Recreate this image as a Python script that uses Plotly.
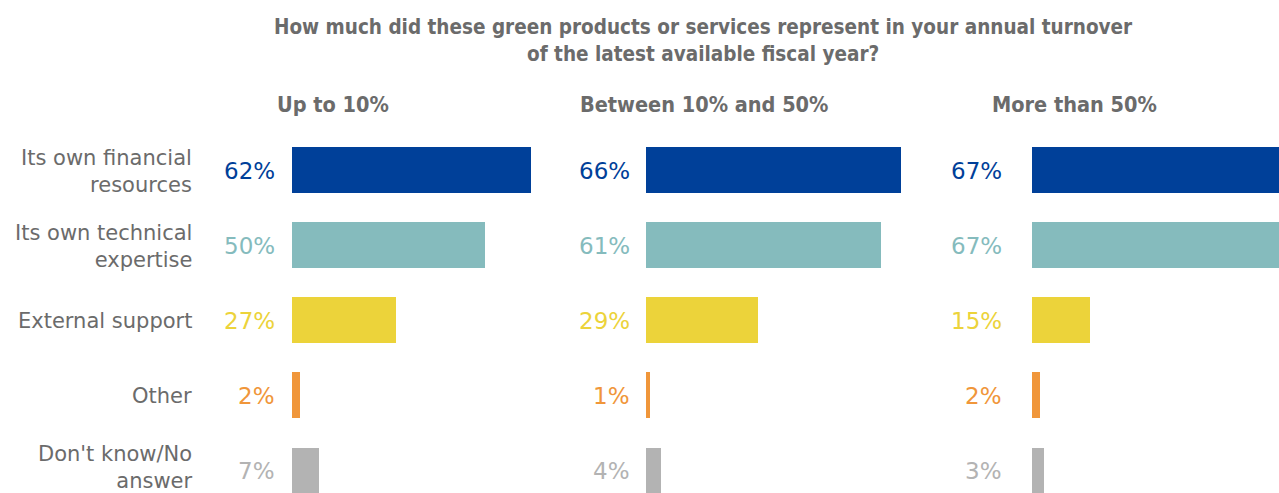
import plotly.graph_objects as go

# Survey answers, top to bottom
categories = [
    "Its own financial<br>resources",
    "Its own technical<br>expertise",
    "External support",
    "Other",
    "Don't know/No<br>answer",
]
groups = ["Up to 10%", "Between 10% and 50%", "More than 50%"]
share_up_to_10 = [62, 50, 27, 2, 7]
share_10_to_50 = [66, 61, 29, 1, 4]
share_over_50 = [67, 67, 15, 2, 3]
series = [share_up_to_10, share_10_to_50, share_over_50]

bar_colors = ["#004099", "#85BBBD", "#ECD33A", "#F0963A", "#B3B3B3"]
label_colors = ["#004099", "#85BBBD", "#ECD33A", "#F0963A", "#B3B3B3"]

title = ("How much did these green products or services represent in your annual turnover"
         "<br>of the latest available fiscal year?")

W, H = 1279, 493
PX_PER_PCT = 3.86
panel_left = [292, 646, 1032]
panel_width = [270, 270, 247]
label_gap = [15, 14, 28]
subtitle_center = [333, 704, 1074]

ROW_TOP = 170.0
ROW_STEP = 75.1
y_range = [(H - ROW_TOP) / ROW_STEP, -ROW_TOP / ROW_STEP]

TEXT_FONT = "DejaVu Sans, Verdana, sans-serif"
BOLD_FONT = "DejaVu Sans Condensed, DejaVu Sans, sans-serif"
GREY = "#6B6B6B"

fig = go.Figure()
rows = list(range(len(categories)))

for p, values in enumerate(series):
    xa = "x" if p == 0 else f"x{p + 1}"
    fig.add_trace(go.Bar(
        x=values, y=rows, orientation="h",
        marker=dict(color=bar_colors, line=dict(width=0)),
        width=0.608, xaxis=xa, yaxis="y",
        hoverinfo="skip", showlegend=False,
    ))
    axis_key = "xaxis" if p == 0 else f"xaxis{p + 1}"
    dom = [panel_left[p] / W, (panel_left[p] + panel_width[p]) / W]
    fig.layout[axis_key] = dict(
        domain=dom, range=[0, panel_width[p] / PX_PER_PCT],
        visible=False, fixedrange=True, anchor="y",
    )
    for i, v in enumerate(values):
        fig.add_annotation(
            x=0, y=i, xref=xa, yref="y", text=f"{v}%",
            xanchor="right", yanchor="middle", xshift=-label_gap[p], yshift=-1,
            showarrow=False,
            font=dict(family=TEXT_FONT, size=23, color=label_colors[i]),
        )
    fig.add_annotation(
        x=subtitle_center[p] / W, y=1 - 104 / H, xref="paper", yref="paper",
        text=f"<b>{groups[p]}</b>", xanchor="center", yanchor="middle",
        showarrow=False, font=dict(family=BOLD_FONT, size=21.5, color=GREY),
    )

# the last label sits against the bottom edge, so it is nudged up a little
label_shift = [-1, -1, -1, -1, 3]
for i, c in enumerate(categories):
    fig.add_annotation(
        x=194 / W, y=i, xref="paper", yref="y", text=c,
        xanchor="right", yanchor="middle", align="right",
        showarrow=False, yshift=label_shift[i],
        font=dict(family=TEXT_FONT, size=21, color=GREY),
    )

fig.add_annotation(
    x=703 / W, y=1 - 40 / H, xref="paper", yref="paper",
    text=f"<b>{title}</b>", xanchor="center", yanchor="middle", align="center",
    showarrow=False, font=dict(family=BOLD_FONT, size=20.5, color=GREY),
)

fig.update_layout(
    width=W, height=H,
    margin=dict(l=0, r=0, t=0, b=0),
    paper_bgcolor="white", plot_bgcolor="white",
    yaxis=dict(domain=[0, 1], range=y_range, visible=False, fixedrange=True),
    bargap=0,
)

fig.write_html("out.html", config={"displayModeBar": False})
